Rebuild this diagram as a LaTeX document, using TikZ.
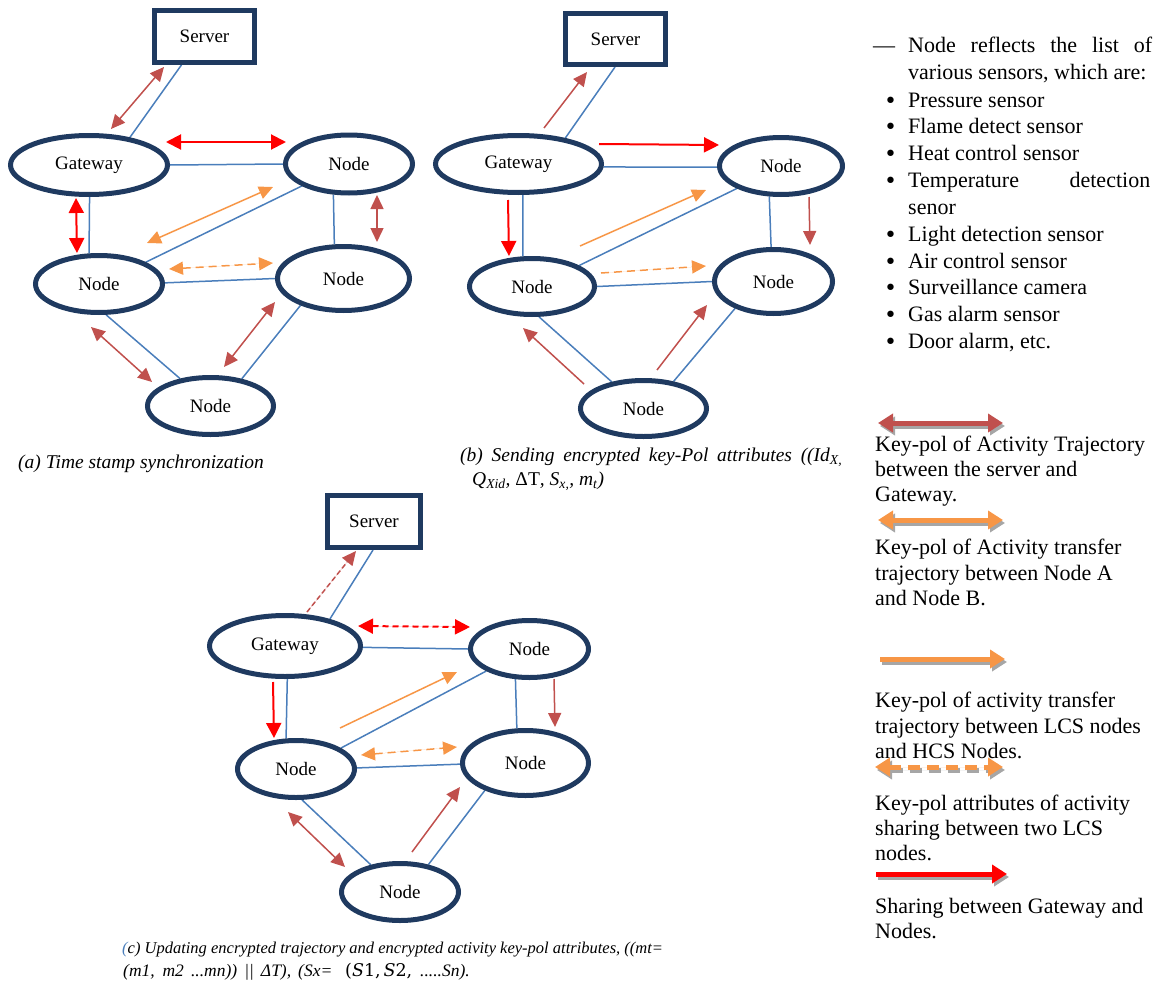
\documentclass[tikz,border=0pt]{standalone}
\usepackage{fontspec}
\setmainfont{Liberation Serif}
\newfontfamily\mathlike{DejaVu Serif}
\newfontfamily\bulletfont{DejaVu Sans}
\usetikzlibrary{arrows.meta,shapes.geometric,backgrounds}
\definecolor{navy}{HTML}{1F3A60}
\definecolor{blueln}{HTML}{4A7EBB}
\definecolor{brownc}{HTML}{C0504D}
\definecolor{orangec}{HTML}{F79646}
\definecolor{redc}{HTML}{FF0000}
\definecolor{shadowc}{HTML}{A6A6A6}
\newcommand{\bul}{\makebox[24pt][l]{\bulletfont\raisebox{-1pt}{•}}}
\begin{document}
\begin{tikzpicture}[x=1pt,y=-1pt,
  ell/.style={ellipse,draw=navy,line width=5pt,inner sep=0pt,font=\fontsize{19}{22}\selectfont},
  srv/.style={rectangle,draw=navy,line width=5pt,inner sep=0pt,font=\fontsize{19}{22}\selectfont},
  link/.style={draw=blueln,line width=1.5pt},
  bro/.style={draw=brownc,fill=brownc,line width=1.5pt,>={Triangle[length=14pt,width=13pt]}},
  redA/.style={draw=redc,fill=redc,line width=2pt,>={Triangle[length=15pt,width=15pt]}},
  ora/.style={draw=orangec,fill=orangec,line width=1.5pt,>={Triangle[length=14pt,width=13pt]}},
  dsh/.style={dash pattern=on 8pt off 5pt},
  fdsh/.style={dash pattern=on 5pt off 3pt},
  leg/.style={anchor=base west,inner sep=0pt,font=\fontsize{22}{25}\selectfont},
  captxt/.style={anchor=base west,inner sep=0pt,font=\fontsize{19.5}{24}\selectfont\itshape},
  captxtc/.style={anchor=base west,inner sep=0pt,font=\fontsize{16.5}{20}\selectfont\itshape},
  lgarr/.style={line width=5pt,>={Triangle[length=15pt,width=18pt]}},
  ]
\useasboundingbox (0,0) rectangle (1157,982);

%% ---------------- (a) ----------------
\node[srv,minimum width=100pt,minimum height=52pt] (srvA) at (204.5,36.5) {Server};
\node[ell,minimum width=157pt,minimum height=59pt] (gwA) at (89,165) {Gateway};
\node[ell,minimum width=127pt,minimum height=58pt] (nA1) at (349,164) {Node};
\node[ell,minimum width=127pt,minimum height=57pt] (nA2) at (99,284) {Node};
\node[ell,minimum width=132pt,minimum height=64pt] (nA3) at (343.5,278.5) {Node};
\node[ell,minimum width=126pt,minimum height=57pt] (nA4) at (210.5,406) {Node};
\begin{scope}[on background layer]
\draw[link] (srvA.-129) -- (gwA.34);
\draw[link] (gwA.0) -- (nA1.180);
\draw[link] (gwA.-89) -- (nA2.108);
\draw[link] (nA1.205) -- (nA2.25);
\draw[link] (nA1.243) -- (nA3.105);
\draw[link] (nA2.1) -- (nA3.180);
\draw[link] (nA2.-77) -- (nA4.138);
\draw[link] (nA3.212) -- (nA4.41);
\end{scope}
\draw[bro,<->] (111,129) -- (164,67);
\draw[redA,<->] (166,142) -- (286,142);
\draw[redA,<->] (76,198) -- (77,253);
\draw[bro,<->] (377,195) -- (377,242);
\draw[ora,<->] (147,243) -- (273,187);
\draw[ora,dsh,<->] (169,269) -- (273,263);
\draw[bro,<->] (91,327) -- (152,382);
\draw[bro,<->] (224,367) -- (275,302);
\node[captxt] (capA) at (18,468) {(a) Time stamp synchronization};

%% ---------------- (b) ----------------
\node[srv,minimum width=100pt,minimum height=51pt] (srvB) at (615.5,39) {Server};
\node[ell,minimum width=166pt,minimum height=57pt] (gwB) at (518.5,164) {Gateway};
\node[ell,minimum width=123pt,minimum height=57pt] (nB1) at (781,166) {Node};
\node[ell,minimum width=125pt,minimum height=56pt] (nB2) at (532,286.5) {Node};
\node[ell,minimum width=118pt,minimum height=64pt] (nB3) at (773.5,281.5) {Node};
\node[ell,minimum width=126pt,minimum height=56pt] (nB4) at (643.5,408.5) {Node};
\begin{scope}[on background layer]
\draw[link] (srvB.-91) -- (gwB.29);
\draw[link] (gwB.-2) -- (nB1.181);
\draw[link] (gwB.-82) -- (nB2.107);
\draw[link] (nB1.207) -- (nB2.24);
\draw[link] (nB1.249) -- (nB3.94);
\draw[link] (nB2.0) -- (nB3.180);
\draw[link] (nB2.-77) -- (nB4.140);
\draw[link] (nB3.215) -- (nB4.42);
\end{scope}
\draw[bro,->] (544,128) -- (587,72);
\draw[redA,->] (599,144) -- (719,145);
\draw[redA,->] (508,200) -- (509,256);
\draw[bro,->] (809,197) -- (810,245);
\draw[ora,->] (580,246) -- (706,190);
\draw[ora,dsh,->] (601,273) -- (706,266);
\draw[bro,->] (584,384) -- (523,328);
\draw[bro,->] (657,370) -- (707,305);
\node[captxt] (capB1) at (460,461) {\hbox to 382pt{(b)\hfill Sending\hfill encrypted\hfill key-Pol\hfill attributes\hfill ((\textit{Id}\textsubscript{X,}}};
\node[captxt] (capB2) at (472,485) {\textit{Q}\textsubscript{Xid}, {\upshape ΔT}, \textit{S}\textsubscript{x,}, \textit{m}\textsubscript{t})};

%% ---------------- (c) ----------------
\node[srv,minimum width=93pt,minimum height=52pt] (srvC) at (374,521.5) {Server};
\node[ell,minimum width=151pt,minimum height=61pt] (gwC) at (285,646) {Gateway};
\node[ell,minimum width=118pt,minimum height=57pt] (nC1) at (529.5,649) {Node};
\node[ell,minimum width=117pt,minimum height=57pt] (nC2) at (296,769) {Node};
\node[ell,minimum width=126pt,minimum height=65pt] (nC3) at (525.5,763) {Node};
\node[ell,minimum width=117pt,minimum height=57pt] (nC4) at (400,892) {Node};
\begin{scope}[on background layer]
\draw[link] (srvC.-92) -- (gwC.31);
\draw[link] (gwC.-1) -- (nC1.180);
\draw[link] (gwC.-86) -- (nC2.108);
\draw[link] (nC1.207) -- (nC2.25);
\draw[link] (nC1.245) -- (nC3.104);
\draw[link] (nC2.1) -- (nC3.181);
\draw[link] (nC2.-79) -- (nC4.137);
\draw[link] (nC3.214) -- (nC4.44);
\end{scope}
\draw[bro,fdsh,->] (307,612) -- (356,551);
\draw[redA,dash pattern=on 6pt off 4pt,<->] (358,626) -- (470,627);
\draw[redA,->] (273,682) -- (274,738);
\draw[bro,->] (554,679) -- (555,727);
\draw[ora,->] (340,728) -- (457,672);
\draw[ora,dsh,<->] (361,755) -- (457,747);
\draw[bro,<->] (288,812) -- (345,867);
\draw[bro,->] (412,852) -- (460,787);
\node[captxtc] (capC1) at (122,953) {\textcolor{blueln}{(}c) Updating encrypted trajectory and encrypted activity key-pol attributes, ((mt=};
\node[captxtc] (capC2) at (123,976) {\fontsize{17.5}{20}\selectfont\makebox[168pt][s]{(m1, m2 ...mn)) || ΔT),}\hspace{7pt}\makebox[47pt][l]{(Sx=}\makebox[75pt][l]{\upshape\mathlike(\textit{S}1,\,\textit{S}2,}.....Sn).};

%% ---------------- legend: sensor list ----------------
\node[leg] (s0) at (873,53) {\makebox[35pt][l]{—}\hbox to 244pt{Node\hfill reflects\hfill the\hfill list\hfill of}};
\node[leg] (s0b) at (908,80) {various sensors, which are:};
\node[leg] (s1) at (884,107) {\bul Pressure sensor};
\node[leg] (s2) at (884,133) {\bul Flame detect sensor};
\node[leg] (s3) at (884,160) {\bul Heat control sensor};
\node[leg] (s4) at (884,187) {\bul\hbox to 242pt{Temperature\hfill detection}};
\node[leg] (s4b) at (908,214) {senor};
\node[leg] (s5) at (884,241) {\bul Light detection sensor};
\node[leg] (s6) at (884,268) {\bul Air control sensor};
\node[leg] (s7) at (884,294) {\bul Surveillance camera};
\node[leg] (s8) at (884,321) {\bul Gas alarm sensor};
\node[leg] (s9) at (884,348) {\bul Door alarm, etc.};

%% ---------------- legend: arrows ----------------
\coordinate (L1a) at (878,423); \coordinate (L1b) at (1003,423);
\coordinate (L2a) at (878,520); \coordinate (L2b) at (1003,520);
\coordinate (L3a) at (880,659); \coordinate (L3b) at (1005,659);
\coordinate (L4a) at (875,767); \coordinate (L4b) at (1003,767);
\coordinate (L5a) at (876,874); \coordinate (L5b) at (1007,874);
\draw[lgarr,draw=shadowc,fill=shadowc,<->] ([xshift=2pt,yshift=-3pt]L1a) -- ([xshift=2pt,yshift=-3pt]L1b);
\draw[lgarr,draw=brownc,fill=brownc,<->] (L1a) -- (L1b);
\draw[lgarr,draw=shadowc,fill=shadowc,<->] ([xshift=2pt,yshift=-3pt]L2a) -- ([xshift=2pt,yshift=-3pt]L2b);
\draw[lgarr,draw=orangec,fill=orangec,<->] (L2a) -- (L2b);
\draw[lgarr,draw=shadowc,fill=shadowc,->] ([xshift=2pt,yshift=-3pt]L3a) -- ([xshift=2pt,yshift=-3pt]L3b);
\draw[lgarr,draw=orangec,fill=orangec,->] (L3a) -- (L3b);
\draw[lgarr,draw=shadowc,fill=shadowc,dash pattern=on 12pt off 7pt,<->] ([xshift=2pt,yshift=-3pt]L4a) -- ([xshift=2pt,yshift=-3pt]L4b);
\draw[lgarr,draw=orangec,fill=orangec,dash pattern=on 12pt off 7pt,<->] (L4a) -- (L4b);
\draw[lgarr,draw=shadowc,fill=shadowc,->] ([xshift=2pt,yshift=-3pt]L5a) -- ([xshift=2pt,yshift=-3pt]L5b);
\draw[lgarr,draw=redc,fill=redc,->] (L5a) -- (L5b);

%% ---------------- legend: texts ----------------
\node[leg] (t1a) at (875,451) {Key-pol of Activity Trajectory};
\node[leg] (t1b) at (875,476) {between the server and};
\node[leg] (t1c) at (875,501) {Gateway.};
\node[leg] (t2a) at (875,554) {Key-pol of Activity transfer};
\node[leg] (t2b) at (875,580) {trajectory between Node A};
\node[leg] (t2c) at (875,605) {and Node B.};
\node[leg] (t3a) at (875,707) {Key-pol of activity transfer};
\node[leg] (t3b) at (875,733) {trajectory between LCS nodes};
\node[leg] (t3c) at (875,758) {and HCS Nodes.};
\node[leg] (t4a) at (875,810) {Key-pol attributes of activity};
\node[leg] (t4b) at (875,835) {sharing between two LCS};
\node[leg] (t4c) at (875,860) {nodes.};
\node[leg] (t5a) at (875,913) {Sharing between Gateway and};
\node[leg] (t5b) at (875,938) {Nodes.};
\end{tikzpicture}
\end{document}
